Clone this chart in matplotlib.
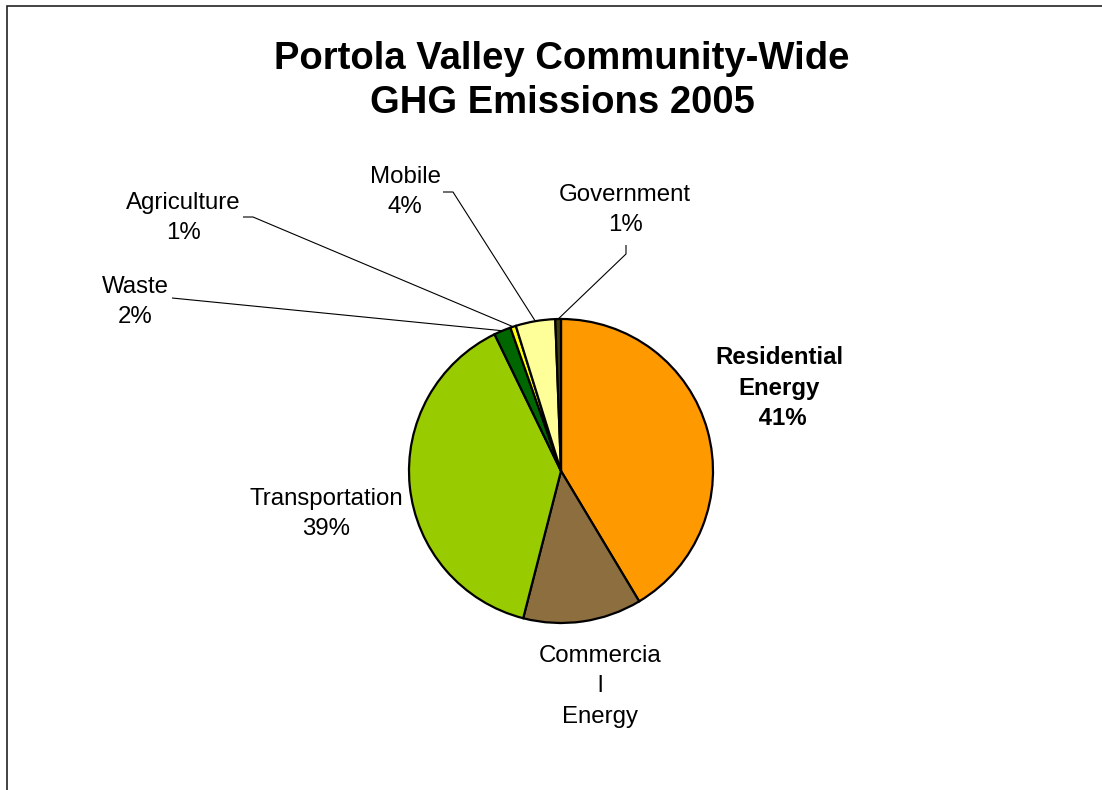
import numpy as np
import matplotlib
matplotlib.use("Agg")
import matplotlib.pyplot as plt
from matplotlib.patches import Rectangle

plt.rcParams['font.family'] = ['Liberation Sans', 'DejaVu Sans']

# ---- data ----
categories = ["Residential\nEnergy", "Commercia\nl\nEnergy", "Transportation",
              "Waste", "Agriculture", "Mobile", "Government"]
values = [41.4, 12.6, 38.8, 1.8, 0.6, 4.2, 0.6]
show_pct = [True, False, True, True, True, True, True]
bold_label = [True, False, False, False, False, False, False]
colors = ["#FF9900", "#8C6E3F", "#99CC00", "#006600", "#FFFF00", "#FFFF99", "#3D3D10"]
title = "Portola Valley Community-Wide\nGHG Emissions 2005"

W, H = 1102, 790
fig = plt.figure(figsize=(W / 100, H / 100), dpi=100)
ax = fig.add_axes([0, 0, 1, 1])

cx, cy, r = 561, H - 471, 152
wedges, _ = ax.pie(values, colors=colors, startangle=90, counterclock=False,
                   center=(cx, cy), radius=r, frame=True,
                   wedgeprops=dict(edgecolor='black', linewidth=1.6))
ax.set_xlim(0, W)
ax.set_ylim(0, H)
ax.set_aspect('equal')
ax.axis('off')

# label layout (pixel positions from top)
label_pos = [(779, 388), (600, 686), (326, 514), (135, 302), (183, 218), (405, 192), (625, 210)]
# leader line: (start point, knee point) in pixels, None = no leader
leaders = [None, None, None,
           [(172, 298), (172, 298)],
           [(243, 217), (253, 217)],
           [(443, 192), (453, 192)],
           [(626, 245), (626, 254)]]

total = sum(values)
for i, (lab, v) in enumerate(zip(categories, values)):
    pct = round(v / total * 100)
    if i == 0:
        txt = lab + "\n %d%%" % pct
    else:
        txt = lab + ("\n%d%%" % pct if show_pct[i] else "")
    x, y = label_pos[i]
    ax.text(x, H - y, txt, ha='center', va='center', fontsize=17.3,
            fontweight='bold' if bold_label[i] else 'normal',
            linespacing=1.5 if i == 1 else 1.44)
    if leaders[i] is not None:
        w = wedges[i]
        mid = np.deg2rad((w.theta1 + w.theta2) / 2)
        ex, ey = cx + r * np.cos(mid), cy + r * np.sin(mid)
        (x0, y0), (x1, y1) = leaders[i]
        ax.plot([x0, x1, ex], [H - y0, H - y1, ey], color='black', lw=0.8,
                solid_capstyle='butt')

ax.text(562, H - 81, title, ha='center', va='center', fontsize=27.5,
        fontweight='bold', linespacing=1.26)

# outer frame (only left and top visible)
fig.patches.append(Rectangle((7 / W, -0.1), 1.2, (H - 6) / H + 0.1, transform=fig.transFigure,
                             fill=False, edgecolor='#222222', linewidth=1.2))

fig.savefig("out.png", dpi=100, facecolor='white')
